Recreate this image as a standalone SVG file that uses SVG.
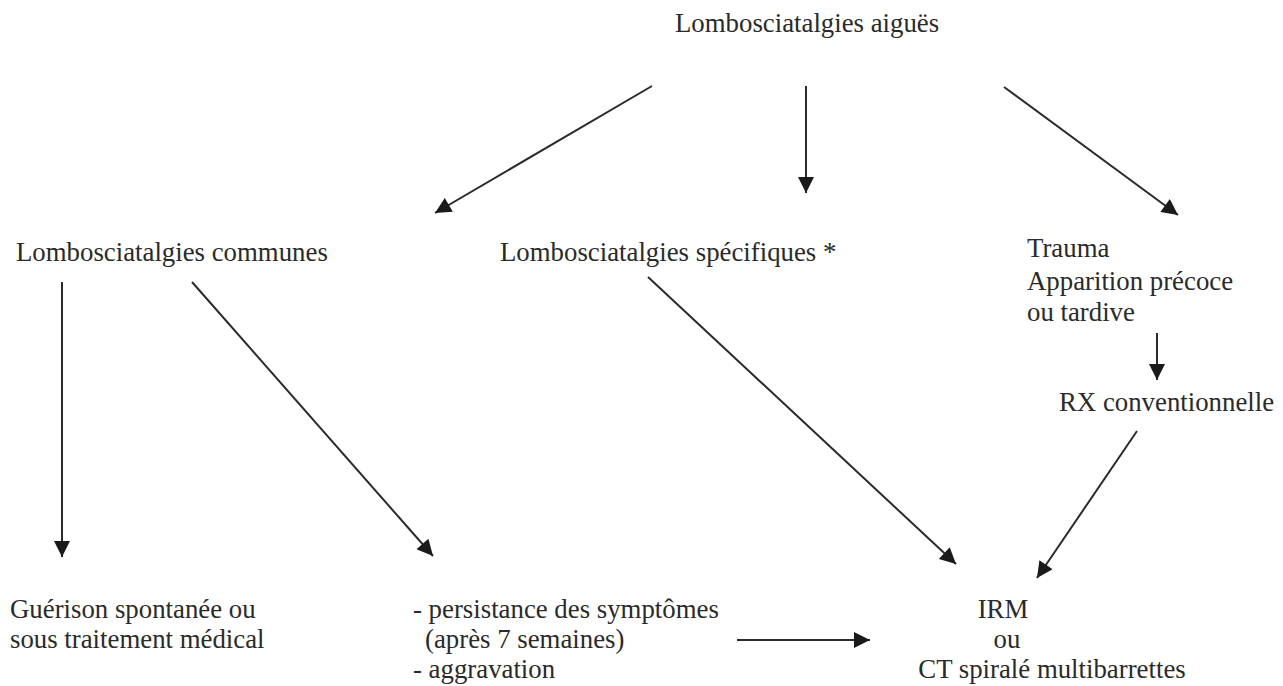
<svg xmlns="http://www.w3.org/2000/svg" width="1283" height="686" viewBox="0 0 1283 686">
<style>
text{font-family:"Liberation Serif","Times New Roman",serif;font-size:26.8px;fill:#2a2a2a}
.c line{stroke:#2a2a2a;stroke-width:2;marker-end:url(#ah)}
</style>
<defs>
<marker id="ah" viewBox="0 0 10 10" refX="10" refY="5" markerWidth="10" markerHeight="8" markerUnits="strokeWidth" orient="auto">
<path d="M0,0 L10,5 L0,10 Z" fill="#1a1a1a"/>
</marker>
</defs>
<rect width="1283" height="686" fill="#fff"/>
<g id="n-aigues"><text x="675" y="32">Lombosciatalgies aiguës</text></g>
<g id="n-communes"><text x="16" y="261">Lombosciatalgies communes</text></g>
<g id="n-specifiques"><text x="500" y="261">Lombosciatalgies spécifiques *</text></g>
<g id="n-trauma"><text x="1027" y="257">Trauma</text><text x="1027" y="290">Apparition précoce</text><text x="1027" y="321">ou tardive</text></g>
<g id="n-rx"><text x="1059" y="411">RX conventionnelle</text></g>
<g id="n-guerison"><text x="10" y="618">Guérison spontanée ou</text><text x="10" y="648">sous traitement médical</text></g>
<g id="n-persistance"><text x="413" y="618">- persistance des symptômes</text><text x="425" y="648">(après 7 semaines)</text><text x="413" y="678">- aggravation</text></g>
<g id="n-irm"><text x="1003" y="618" text-anchor="middle">IRM</text><text x="1007" y="648" text-anchor="middle">ou</text><text x="1052" y="678" text-anchor="middle">CT spiralé multibarrettes</text></g>
<g id="connectors" class="c">
<line x1="652" y1="86" x2="435" y2="213"/>
<line x1="806" y1="86" x2="806" y2="193"/>
<line x1="1004" y1="87" x2="1178" y2="215"/>
<line x1="62" y1="282" x2="62" y2="557"/>
<line x1="192" y1="282" x2="433" y2="556"/>
<line x1="648" y1="277" x2="956" y2="564"/>
<line x1="1157" y1="333" x2="1157" y2="380"/>
<line x1="1137" y1="431" x2="1037" y2="578"/>
<line x1="737" y1="640" x2="870" y2="640"/>
</g>
</svg>
